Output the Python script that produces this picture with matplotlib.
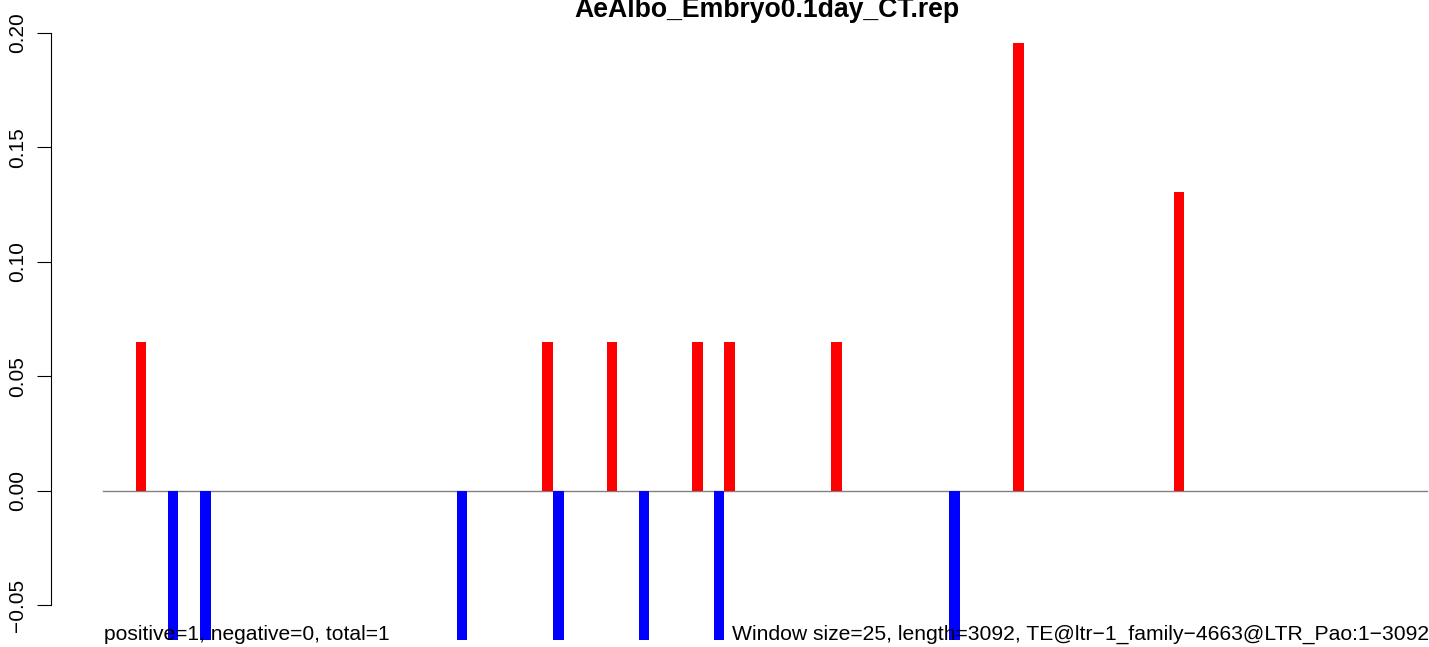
import matplotlib
matplotlib.use("Agg")
import matplotlib.pyplot as plt

plt.rcParams['font.family'] = ['Liberation Sans', 'DejaVu Sans']

# window index (left edge) and value, window size 25, length 3092
pos_bins = [3, 41, 47, 55, 58, 68, 85, 100]
pos_vals = [0.0652, 0.0652, 0.0652, 0.0652, 0.0652, 0.0652, 0.1957, 0.1304]
neg_bins = [6, 9, 33, 42, 50, 57, 79]
neg_vals = [-0.0652, -0.0652, -0.0652, -0.0652, -0.0652, -0.0652, -0.0652]
yticks = [-0.05, 0.00, 0.05, 0.10, 0.15, 0.20]
seq_len = 3092
win = 25

W, H = 1429, 647
fig = plt.figure(figsize=(W / 100, H / 100), dpi=100)
ax = fig.add_axes([51 / W, 1 - 640 / H, (W - 51) / W, (640 - 22) / H])

ax.bar([b + 0.55 for b in pos_bins], pos_vals, width=1.0, color='red', linewidth=0)
ax.bar([b + 0.55 for b in neg_bins], neg_vals, width=1.0, color='blue', linewidth=0)
ax.plot([0, seq_len / win], [0, 0], color='gray', linewidth=1, zorder=0)

ax.set_xlim(-4.86, 123.9)
ax.set_ylim(-0.0651, 0.2048)
for s in ['top', 'right', 'bottom']:
    ax.spines[s].set_visible(False)
ax.spines['left'].set_bounds(-0.05, 0.20)
ax.set_xticks([])
ax.set_yticks(yticks)
ax.set_yticklabels([f"{v:.2f}".replace('-', '\u2212') for v in yticks],
                   rotation=90, va='center', fontsize=15)
ax.tick_params(axis='y', length=10, pad=7.5)

fig.text(767 / W, 1 - 17 / H, "AeAlbo_Embryo0.1day_CT.rep", ha='center',
         va='baseline', fontsize=19.2, fontweight='bold')
fig.text(104 / W, 1 - 640 / H, "positive=1, negative=0, total=1", ha='left',
         va='baseline', fontsize=15.1)
fig.text(732 / W, 1 - 640 / H,
         "Window size=25, length=3092, TE@ltr\u22121_family\u22124663@LTR_Pao:1\u22123092",
         ha='left', va='baseline', fontsize=15.2)

fig.savefig("out.png", dpi=100)
